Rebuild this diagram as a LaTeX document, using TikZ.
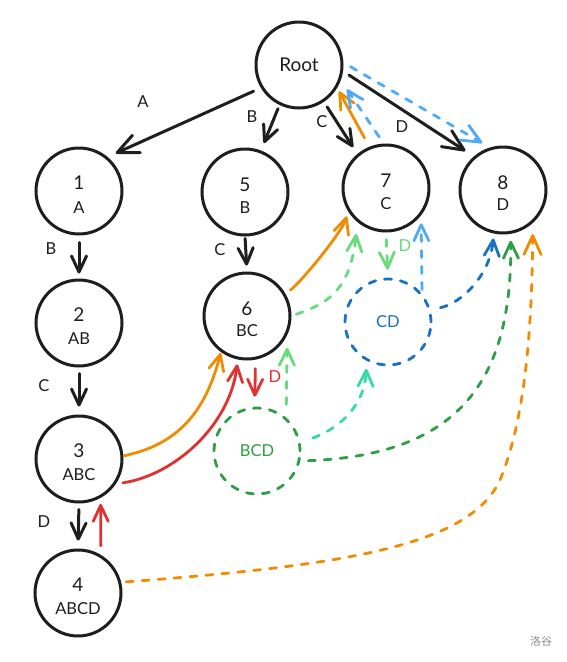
\documentclass[tikz,border=0pt]{standalone}
\usepackage{fontspec}
\setmainfont{Lato}
\newfontfamily\cjk{Noto Sans CJK SC}
\usetikzlibrary{arrows.meta}
\definecolor{ink}{HTML}{1E1E1E}
\definecolor{exorange}{HTML}{F08C00}
\definecolor{exred}{HTML}{E03131}
\definecolor{exlblue}{HTML}{4DABF7}
\definecolor{exblue}{HTML}{1971C2}
\definecolor{exlgreen}{HTML}{69DB7C}
\definecolor{exgreen}{HTML}{2F9E44}
\definecolor{exteal}{HTML}{38D9A9}
\begin{document}
\begin{tikzpicture}[x=1pt,y=-1pt,
  state/.style={circle,draw=ink,line width=3pt,minimum size=86pt,inner sep=0pt},
  dstate/.style={circle,line width=2.8pt,minimum size=86pt,inner sep=0pt,dash pattern=on 7pt off 9pt,line cap=round},
  numtxt/.style={font=\fontsize{19}{19}\selectfont,text=ink,inner sep=0pt},
  labtxt/.style={font=\fontsize{16.5}{16.5}\selectfont,text=ink,inner sep=0pt},
  elab/.style={font=\fontsize{16.5}{16.5}\selectfont,text=ink,inner sep=0pt},
  edge/.style={line width=3pt,draw=ink,line cap=round,-{Straight Barb[length=16pt,width=15pt,round]}},
  bigedge/.style={line width=3pt,draw=ink,line cap=round,-{Straight Barb[length=21pt,width=19pt,round]}},
  cedge/.style={line width=2.8pt,line cap=round,-{Straight Barb[length=16pt,width=15pt,round]}},
  bigcedge/.style={line width=2.8pt,line cap=round,-{Straight Barb[length=19pt,width=17pt,round]}},
  dashd/.style={dash pattern=on 7pt off 9pt},
]
\useasboundingbox (0,0) rectangle (567,662);
\fill[white] (0,0) rectangle (567,662);

% states
\node[state,font=\fontsize{19}{19}\selectfont,text=ink] (R) at (299,65) {Root};
\node[state] (n1) at (79,191) {};
\node[numtxt] (n1a) at (79,183) {1};
\node[labtxt] (n1b) at (79,208) {A};
\node[state] (n2) at (79,323) {};
\node[numtxt] (n2a) at (79,315) {2};
\node[labtxt] (n2b) at (79,339) {AB};
\node[state] (n3) at (79,459) {};
\node[numtxt] (n3a) at (79,451) {3};
\node[labtxt] (n3b) at (79,475) {ABC};
\node[state] (n4) at (78,593) {};
\node[numtxt] (n4a) at (78,585) {4};
\node[labtxt] (n4b) at (78,609) {ABCD};
\node[state] (n5) at (245,192) {};
\node[numtxt] (n5a) at (245,185) {5};
\node[labtxt] (n5b) at (245,208) {B};
\node[state] (n6) at (247,316) {};
\node[numtxt] (n6a) at (247,309) {6};
\node[labtxt] (n6b) at (247,331) {BC};
\node[state] (n7) at (386,188) {};
\node[numtxt] (n7a) at (386,181) {7};
\node[labtxt] (n7b) at (386,204) {C};
\node[state] (n8) at (503,190) {};
\node[numtxt] (n8a) at (503,183) {8};
\node[labtxt] (n8b) at (503,205) {D};
\node[dstate,draw=exblue,text=exblue,font=\fontsize{16.5}{16.5}\selectfont] (CD) at (388,322) {CD};
\node[dstate,draw=exgreen,text=exgreen,font=\fontsize{16.5}{16.5}\selectfont] (BCD) at (257,451) {BCD};

% black trie edges
\draw[bigedge,shorten <=8pt,shorten >=9pt] (R.211) -- (n1.50);
\draw[edge,shorten <=4pt,shorten >=8pt] (R.244) -- (n5.69);
\draw[edge,shorten <=6pt,shorten >=8pt] (R.304) -- (n7.130);
\draw[bigedge,shorten <=7pt,shorten >=10pt] (R.352) -- (n8.131);
\draw[edge,shorten <=7pt,shorten >=5pt] (n1.south) -- (n2.north);
\draw[edge,shorten <=2pt,shorten >=6pt] (n5.south) -- (n6.north);
\draw[edge,shorten <=6pt,shorten >=8pt] (n2.south) -- (n3.north);
\draw[edge,shorten <=6pt,shorten >=8pt] (n3.south) -- (n4.north);

\node[elab] (lA) at (143,102) {A};
\node[elab] (lB) at (252,117) {B};
\node[elab] (lC) at (322,122) {C};
\node[elab] (lD) at (402,127) {D};
\node[elab] (lB2) at (51,249) {B};
\node[elab] (lC2) at (220,250) {C};
\node[elab] (lC3) at (44,386) {C};
\node[elab] (lD2) at (44,522) {D};

% orange
\draw[cedge,exorange,shorten <=10pt,shorten >=4pt] (n7.112) -- (R.329);
\draw[cedge,exorange,shorten <=6pt,shorten >=5pt] (n6.30) .. controls (300,283) and (341,234) .. (n7.212);
\draw[cedge,exorange,shorten <=1pt,shorten >=1pt] (n3.4) .. controls (175,445) and (205,415) .. (n6.234);
\draw[bigcedge,exorange,dashd,shorten <=5pt,shorten >=11pt] (n4.14) .. controls (350,565) and (470,545) .. (500,480) .. controls (525,420) and (532,330) .. (n8.312);

% red
\draw[cedge,exred,shorten <=9pt,shorten >=10pt] (n6.281) -- (BCD.93);
\node[elab,text=exred] (lDr) at (275,377) {D};
\draw[cedge,exred,shorten <=7pt,shorten >=5pt] (n3.326) .. controls (175,475) and (230,425) .. (n6.258);
\draw[cedge,exred,shorten <=9pt,shorten >=6pt] (n4.59) -- (n3.299);

% light blue
\draw[bigcedge,exlblue,dashd,shorten <=8pt,shorten >=9pt] (R.3) -- (n8.107);
\draw[cedge,exlblue,dashd,shorten <=8pt,shorten >=11pt] (n7.93) -- (R.340);
\draw[cedge,exlblue,dashd,shorten <=4pt,shorten >=8pt] (CD.40) -- (n7.322);

% light green
\draw[cedge,exlgreen,dashd,shorten <=7pt,shorten >=8pt] (n7.south) -- (CD.north);
\node[elab,text=exlgreen] (lDg) at (405,246) {D};
\draw[cedge,exlgreen,dashd,shorten <=5pt,shorten >=12pt] (n6.0) .. controls (322,305) and (350,295) .. (n7.230);
\draw[cedge,exlgreen,dashd,shorten <=13pt,shorten >=13pt] (BCD.49) -- (n6.335);

% dark blue
\draw[cedge,exblue,dashd,shorten <=10pt,shorten >=5pt] (CD.16) .. controls (462,303) and (490,275) .. (n8.258);

% teal
\draw[cedge,exteal,dashd,shorten <=13pt,shorten >=8pt] (BCD.11) .. controls (340,428) and (365,405) .. (CD.241);

% dark green
\draw[cedge,exgreen,dashd,shorten <=8pt,shorten >=7pt] (BCD.347) .. controls (460,455) and (512,380) .. (n8.280);

\node[font=\cjk\fontsize{11}{11}\selectfont,text=black!45] (wm) at (541,641) {洛谷};
\end{tikzpicture}
\end{document}
